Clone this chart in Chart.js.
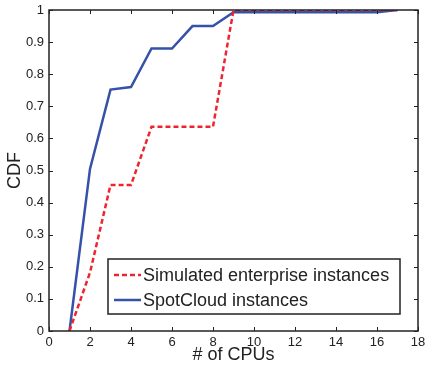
<!DOCTYPE html>
<html>
<head>
<meta charset="utf-8">
<script src="https://cdn.jsdelivr.net/npm/chart.js@4"></script>
<style>
  html, body { margin: 0; padding: 0; background: #fff; }
  #wrap { width: 425px; height: 372px; }
</style>
</head>
<body>
<div id="wrap"><canvas id="cdf_chart" width="425" height="372"></canvas></div>
<script>
const cpu_counts = [1, 2, 3, 4, 5, 6, 7, 8, 9, 10, 11, 12, 13, 14, 15, 16, 17];
const enterprise_cdf = [0, 0.182, 0.455, 0.455, 0.636, 0.636, 0.636, 0.636, 1, 1, 1, 1, 1, 1, 1, 1, 1];
const spotcloud_cdf = [0, 0.505, 0.752, 0.76, 0.88, 0.88, 0.95, 0.95, 0.993, 0.993, 0.993, 0.993, 0.993, 0.993, 0.993, 0.993, 1];
const x_ticks = [0, 2, 4, 6, 8, 10, 12, 14, 16, 18];
const y_ticks = [0, 0.1, 0.2, 0.3, 0.4, 0.5, 0.6, 0.7, 0.8, 0.9, 1];
const series_names = ['Simulated enterprise instances', 'SpotCloud instances'];

const red = '#ee2430';
const blue = '#3651a8';
const ink = '#222222';
const font_family = '"Liberation Sans", Arial, sans-serif';

function to_points(xs, ys) {
    return xs.map((x, i) => ({ x: x, y: ys[i] }));
}

// frame, inward ticks, axis titles and boxed legend, drawn like matlab does
const matlab_frame = {
    id: 'matlab_frame',
    afterDraw(chart) {
        const ctx = chart.ctx;
        const area = chart.chartArea;
        const xs = chart.scales.x;
        const ys = chart.scales.y;
        ctx.save();
        ctx.strokeStyle = ink;
        ctx.lineWidth = 1.5;
        ctx.strokeRect(area.left, area.top, area.right - area.left, area.bottom - area.top);

        ctx.lineWidth = 1;
        x_ticks.forEach((v) => {
            const px = Math.round(xs.getPixelForValue(v)) + 0.5;
            ctx.beginPath();
            ctx.moveTo(px, area.bottom);
            ctx.lineTo(px, area.bottom - 4);
            ctx.moveTo(px, area.top);
            ctx.lineTo(px, area.top + 4);
            ctx.stroke();
        });
        y_ticks.forEach((v) => {
            const py = Math.round(ys.getPixelForValue(v)) + 0.5;
            ctx.beginPath();
            ctx.moveTo(area.left, py);
            ctx.lineTo(area.left + 4, py);
            ctx.moveTo(area.right, py);
            ctx.lineTo(area.right - 4, py);
            ctx.stroke();
        });

        ctx.fillStyle = ink;
        ctx.font = '18px ' + font_family;
        ctx.textAlign = 'center';
        ctx.textBaseline = 'middle';
        ctx.fillText('# of CPUs', (area.left + area.right) / 2, 355);
        ctx.save();
        ctx.translate(15, (area.top + area.bottom) / 2);
        ctx.rotate(-Math.PI / 2);
        ctx.fillText('CDF', 0, 0);
        ctx.restore();

        // legend box
        const lx = 108, ly = 259, lw = 292, lh = 55;
        ctx.fillStyle = '#ffffff';
        ctx.fillRect(lx, ly, lw, lh);
        ctx.strokeStyle = ink;
        ctx.lineWidth = 1.5;
        ctx.strokeRect(lx, ly, lw, lh);

        const rows = [
            { name: series_names[0], color: red, dash: [5, 3], y: ly + 16 },
            { name: series_names[1], color: blue, dash: [], y: ly + 41 },
        ];
        rows.forEach((r) => {
            ctx.strokeStyle = r.color;
            ctx.lineWidth = 2.5;
            ctx.setLineDash(r.dash);
            ctx.beginPath();
            ctx.moveTo(lx + 6, r.y);
            ctx.lineTo(lx + 33, r.y);
            ctx.stroke();
            ctx.setLineDash([]);
            ctx.fillStyle = ink;
            ctx.font = '18px ' + font_family;
            ctx.textAlign = 'left';
            ctx.fillText(r.name, lx + 35, r.y + 1);
        });
        ctx.restore();
    },
};

const ctx = document.getElementById('cdf_chart').getContext('2d');
new Chart(ctx, {
    type: 'line',
    data: {
        datasets: [
            {
                label: series_names[0],
                data: to_points(cpu_counts, enterprise_cdf),
                borderColor: red,
                borderWidth: 2.5,
                borderDash: [5, 3],
                pointRadius: 0,
                tension: 0,
                fill: false,
            },
            {
                label: series_names[1],
                data: to_points(cpu_counts, spotcloud_cdf),
                borderColor: blue,
                borderWidth: 2.5,
                pointRadius: 0,
                tension: 0,
                fill: false,
            },
        ],
    },
    options: {
        responsive: false,
        animation: false,
        events: [],
        layout: {
            padding: { top: 10, right: 7, left: 0, bottom: 0 },
        },
        plugins: {
            legend: { display: false },
            tooltip: { enabled: false },
        },
        scales: {
            x: {
                type: 'linear',
                min: 0,
                max: 18,
                afterFit(scale) {
                    scale.height = 41;
                    scale.paddingLeft = 0;
                    scale.paddingRight = 0;
                },
                afterBuildTicks(scale) { scale.ticks = x_ticks.map((v) => ({ value: v })); },
                grid: { display: false, drawTicks: false },
                border: { display: false },
                ticks: {
                    color: ink,
                    padding: 4,
                    font: { family: font_family, size: 13 },
                },
            },
            y: {
                type: 'linear',
                min: 0,
                max: 1,
                afterFit(scale) {
                    scale.width = 49;
                    scale.paddingTop = 0;
                    scale.paddingBottom = 0;
                },
                afterBuildTicks(scale) { scale.ticks = y_ticks.map((v) => ({ value: v })); },
                grid: { display: false, drawTicks: false },
                border: { display: false },
                ticks: {
                    color: ink,
                    padding: 5,
                    font: { family: font_family, size: 13 },
                    callback: (v) => String(Math.round(v * 10) / 10),
                },
            },
        },
    },
    plugins: [matlab_frame],
});
</script>
</body>
</html>
